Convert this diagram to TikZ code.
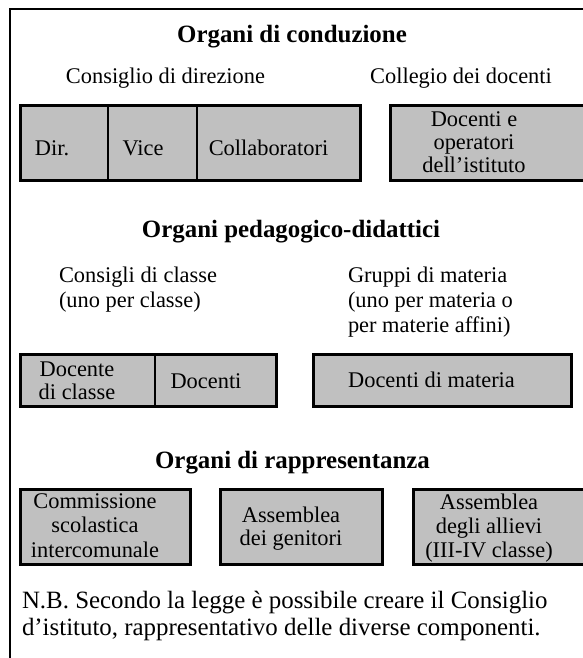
\documentclass[tikz,border=0pt]{standalone}
\usepackage{fontspec}
\setmainfont{Liberation Serif}
\definecolor{boxgray}{HTML}{C0C0C0}
\tikzset{
  lbl/.style={inner sep=0pt, outer sep=0pt, anchor=base, font=\fontsize{22.4}{25}\selectfont},
  ttl/.style={inner sep=0pt, outer sep=0pt, anchor=base, font=\bfseries\fontsize{24.9}{28}\selectfont},
  nbtext/.style={inner sep=0pt, outer sep=0pt, anchor=base west, font=\fontsize{24.9}{27}\selectfont},
  orgbox/.style={draw=black, line width=3pt, fill=boxgray},
  divider/.style={draw=black, line width=1.3pt},
  frameline/.style={draw=black, line width=2pt}
}
\newcommand{\mlc}[2]{{\fontsize{22.4}{#1}\selectfont\begin{tabular}[t]{@{}c@{}}#2\end{tabular}}}
\newcommand{\mll}[2]{{\fontsize{22.4}{#1}\selectfont\begin{tabular}[t]{@{}l@{}}#2\end{tabular}}}
\begin{document}
\begin{tikzpicture}[x=1pt, y=-1pt]
\clip (0,0) rectangle (583,658);
\fill[white] (0,0) rectangle (583,658);
% outer frame (cut off at right and bottom)
\draw[frameline] (9.5,700) -- (9.5,9.5) -- (620,9.5);

% ---- Organi di conduzione
\node[ttl] (t1) at (292,43) {Organi di conduzione};
\node[lbl] (cdd) at (165.5,84) {Consiglio di direzione};
\node[lbl] (cdoc) at (461,84) {Collegio dei docenti};

\draw[orgbox] (20.5,105.5) rectangle (360.5,180.5);
\draw[divider] (108,105.5) -- (108,180.5);
\draw[divider] (197,105.5) -- (197,180.5);
\node[lbl] (dir) at (52,155) {Dir.};
\node[lbl] (vice) at (143,155) {Vice};
\node[lbl] (coll) at (268.5,155) {Collaboratori};

\draw[orgbox] (390.5,105.5) rectangle (620,180.5);
\node[lbl] (docop) at (474,127) {\mlc{23}{Docenti e\\operatori\\dell’istituto}};

% ---- Organi pedagogico-didattici
\node[ttl] (t2) at (291,237) {Organi pedagogico-didattici};
\node[lbl, anchor=base west] (cdc) at (59,282) {\mll{25}{Consigli di classe\\(uno per classe)}};
\node[lbl, anchor=base west] (gdm) at (348,282) {\mll{25}{Gruppi di materia\\(uno per materia o\\per materie affini)}};

\draw[orgbox] (20.5,354.5) rectangle (276.5,406.5);
\draw[divider] (155,354.5) -- (155,406.5);
\node[lbl] (dcl) at (77,376) {\mlc{23}{Docente\\di classe}};
\node[lbl] (doc) at (206,388) {Docenti};

\draw[orgbox] (313.5,354.5) rectangle (571.5,406.5);
\node[lbl] (dmat) at (431.5,387) {Docenti di materia};

% ---- Organi di rappresentanza
\node[ttl] (t3) at (292.5,468) {Organi di rappresentanza};

\draw[orgbox] (20.5,489.5) rectangle (190.5,564.5);
\node[lbl] (csi) at (95,508) {\mlc{24.5}{Commissione\\scolastica\\intercomunale}};

\draw[orgbox] (220.5,489.5) rectangle (382.5,564.5);
\node[lbl] (adg) at (291,522) {\mlc{23}{Assemblea\\dei genitori}};

\draw[orgbox] (413.5,489.5) rectangle (620,564.5);
\node[lbl] (ada) at (489,509) {\mlc{24}{Assemblea\\degli allievi\\(III-IV classe)}};

% ---- Nota
\node[nbtext] (nb) at (22,608) {\begin{tabular}[t]{@{}l@{}}N.B. Secondo la legge è possibile creare il Consiglio\\d’istituto, rappresentativo delle diverse componenti.\end{tabular}};
\end{tikzpicture}
\end{document}
